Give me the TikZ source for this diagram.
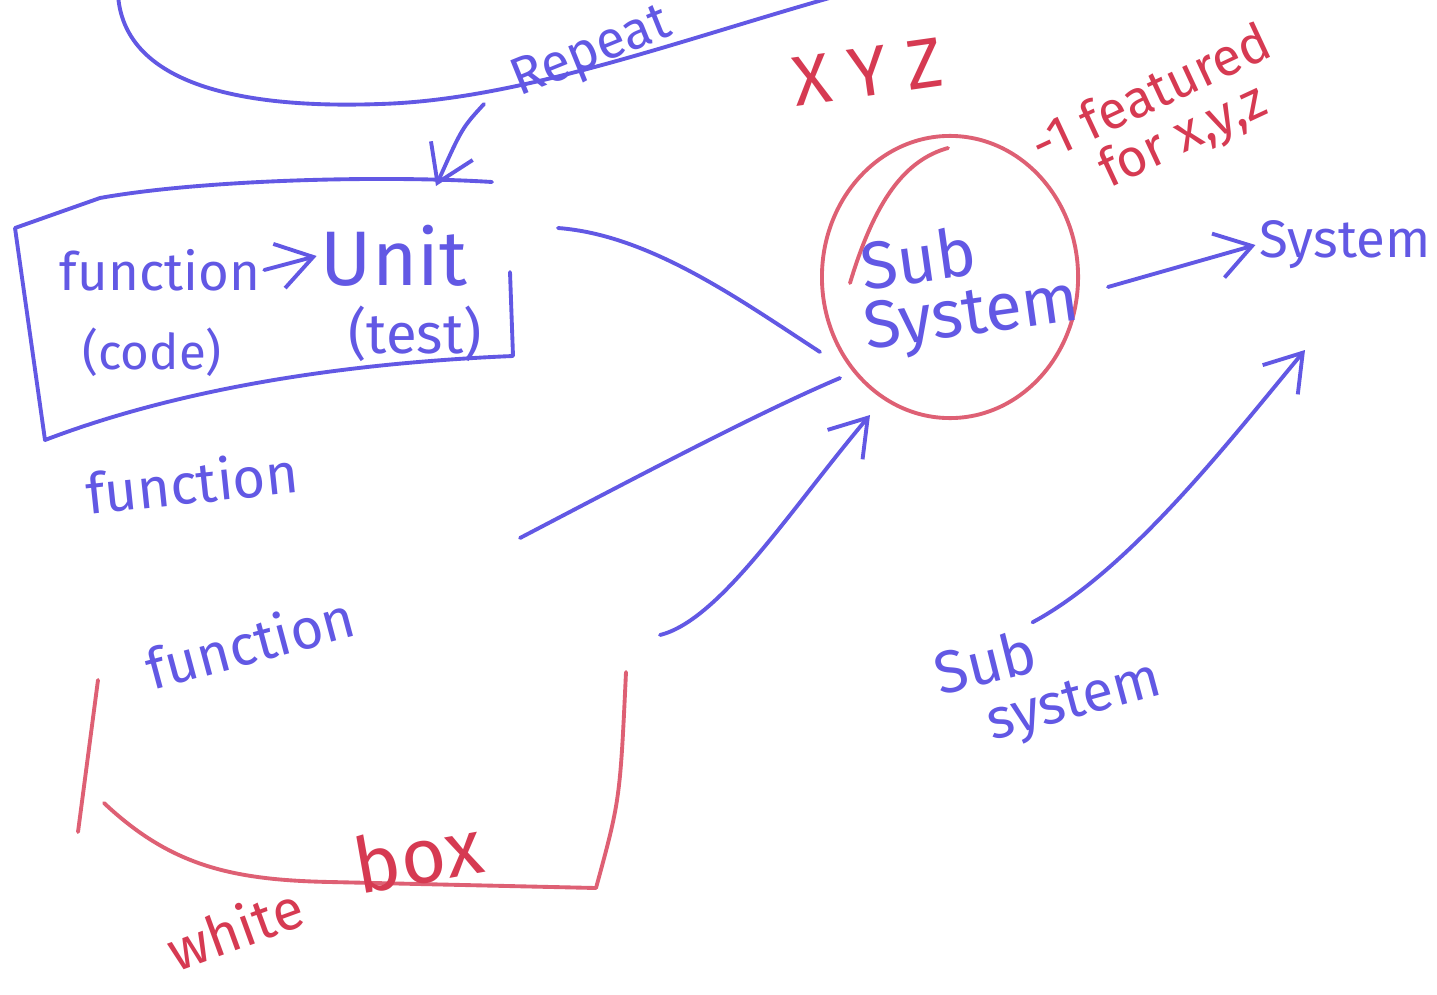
\documentclass[tikz,border=0pt]{standalone}
\usepackage{fontspec}
\setmainfont{Fira Sans}
\usetikzlibrary{positioning,arrows.meta,shapes.geometric}
\definecolor{mblue}{RGB}{98,88,228}
\definecolor{mred}{RGB}{214,58,82}
\definecolor{mpink}{RGB}{222,96,116}

\begin{document}
\begin{tikzpicture}[x=0.01cm,y=-0.01cm,
  pen/.style={line width=1.1pt,line cap=round,line join=round},
  bpen/.style={pen,mblue},
  rpen/.style={pen,mpink},
  word/.style={text=mblue,inner sep=1pt,font=\fontsize{#1}{#1}\selectfont},
  word/.default=18,
  rword/.style={word=#1,text=mred},
  rword/.default=18,
  barb/.style={-{Straight Barb[length=10pt,width=13pt,line width=1.1pt]}}]
\useasboundingbox (0,0) rectangle (1437,994);
\fill[white] (0,0) rectangle (1437,994);

% loop on top
\draw[bpen] (118,-5) .. controls (125,95) and (270,108) .. (380,104) .. controls (520,100) and (680,40) .. (840,-5);
\node[word=15,rotate=22] (repeat) at (592,54) {Repeat};
\coordinate (rtail) at (484,104);
\coordinate (rhead) at (436,186);
\draw[bpen,barb] (rtail) .. controls (462,128) .. (rhead);

% unit box
\coordinate (b1) at (15,228);
\coordinate (b2) at (100,198);
\coordinate (b3) at (492,182);
\coordinate (b4) at (510,272);
\coordinate (b5) at (513,356);
\coordinate (b6) at (45,440);
\draw[bpen] (b2) -- (b1) -- (b6) .. controls (150,400) and (300,365) .. (b5) -- (b4);
\draw[bpen] (b2) .. controls (200,180) and (380,175) .. (b3);
\node[word=15] (fn) at (160,270) {function};
\node[word=22] (unit) at (394,256) {Unit};
\node[word=14] (code) at (152,352) {(code)};
\node[word=16] (test) at (415,334) {(test)};
\draw[bpen,barb] (fn.east) -- (unit.west);

% functions
\node[word=16,rotate=6] (fnB) at (192,482) {function};
\node[word=16,rotate=15] (fnC) at (250,642) {function};

% white box
\draw[rpen] (98,680) -- (78,832);
\coordinate (rb1) at (626,672);
\coordinate (rb2) at (596,888);
\coordinate (rb3) at (104,803);
\draw[rpen] (rb1) .. controls (620,800) .. (rb2) -- (330,882) .. controls (230,880) and (170,865) .. (rb3);
\node[rword=16,rotate=20] (white) at (235,928) {white};
\node[rword=22,rotate=10] (box) at (418,855) {box};

% sub system
\node[ellipse,draw=mpink,pen,minimum width=2.56cm,minimum height=2.82cm] (subsys) at (950,277) {};
\draw[rpen] (850,283) .. controls (875,200) and (905,160) .. (948,148);
\node[word=19,rotate=8] (sub1) at (918,258) {Sub};
\node[word=19,rotate=8] (sys1) at (972,318) {System};
\node[rword=20,rotate=8] (xyz) at (868,72) {X Y Z};
\node[rword=15,rotate=25] (feat) at (1150,92) {-1 featured};
\node[rword=15,rotate=25] (forxyz) at (1184,138) {for x,y,z};

\coordinate (boxout) at (558,228);
\coordinate (ssin1) at (820,352);
\coordinate (fnBout) at (520,538);
\coordinate (ssin2) at (840,378);
\coordinate (fnCout) at (660,635);
\coordinate (ssin3) at (870,415);
\draw[bpen] (boxout) .. controls (650,235) and (740,300) .. (ssin1);
\draw[bpen] (fnBout) .. controls (650,470) and (760,412) .. (ssin2);
\draw[bpen,barb] (fnCout) .. controls (720,620) and (790,510) .. (ssin3);

% system
\node[word=15] (sys) at (1345,245) {System};
\coordinate (ssout) at (1108,287);
\draw[bpen,barb] (ssout) -- (sys.west);
\node[word=17,rotate=14] (sub2) at (985,662) {Sub};
\node[word=16,rotate=15] (sys2) at (1075,705) {system};
\coordinate (sysin) at (1305,350);
\draw[bpen,barb] (sub2.north east) .. controls (1130,570) and (1230,440) .. (sysin);
\end{tikzpicture}
\end{document}
